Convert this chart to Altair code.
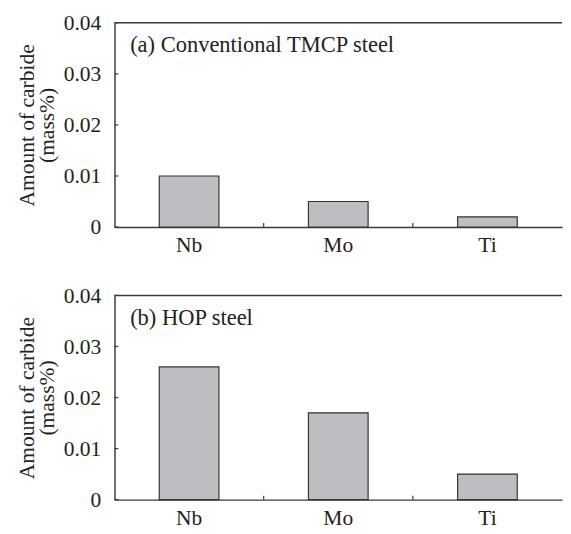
import altair as alt
import pandas as pd

categories = ["Nb", "Mo", "Ti"]
conventional = [0.010, 0.005, 0.002]
hop = [0.026, 0.017, 0.005]
panel_labels = ["(a) Conventional TMCP steel", "(b) HOP steel"]
y_ticks = [0, 0.01, 0.02, 0.03, 0.04]
y_title = ["Amount of carbide", "(mass%)"]

W = 458
H = 209
FONT = "Times New Roman, Liberation Serif, Times, serif"
AX = "#3a3a3a"


def panel(values, label):
    df = pd.DataFrame({"cat": categories, "value": values})
    xscale = alt.Scale(paddingInner=0.6, paddingOuter=0.3)
    yscale = alt.Scale(domain=[0, 0.04], nice=False, zero=True)
    xaxis = alt.Axis(title=None, labelAngle=0, ticks=False, labelPadding=8)
    yaxis = alt.Axis(values=y_ticks, ticks=False, title=y_title, labelPadding=14,
                     labelExpr="datum.value == 0 ? '0' : format(datum.value, '.2f')")
    bars = alt.Chart(df).mark_bar(fill="#bdbec2", stroke="#333333", strokeWidth=1.2).encode(
        x=alt.X("cat:N", sort=categories, scale=xscale, axis=xaxis),
        y=alt.Y("value:Q", scale=yscale, axis=yaxis),
    )
    yt = alt.Chart(pd.DataFrame({"v": y_ticks})).mark_rule(color=AX, strokeWidth=1.2).encode(
        y=alt.Y("v:Q", scale=yscale, axis=yaxis),
        x=alt.value(0), x2=alt.value(4),
    )
    xt = alt.Chart(pd.DataFrame({"cat": categories[:-1]})).mark_rule(
        color=AX, strokeWidth=1.2, xOffset=W * 0.1
    ).encode(
        x=alt.X("cat:N", sort=categories, scale=xscale, bandPosition=1, axis=xaxis),
        y=alt.value(H), y2=alt.value(H - 4),
    )
    ldf = pd.DataFrame({"label": [label]})
    top = alt.Chart(ldf).mark_rule(color=AX, strokeWidth=1.5).encode(
        x=alt.value(0), x2=alt.value(W), y=alt.value(0)
    )
    txt = alt.Chart(ldf).mark_text(align="left", baseline="alphabetic", font=FONT,
                                   fontSize=23, color="#222222").encode(
        text="label:N", x=alt.value(16), y=alt.value(30)
    )
    return alt.layer(bars, yt, xt, top, txt).properties(width=W, height=H)


chart = alt.vconcat(
    panel(conventional, panel_labels[0]),
    panel(hop, panel_labels[1]),
    spacing=30,
).properties(padding={"left": 8, "top": -2, "right": 0, "bottom": 0}).configure_view(
    stroke=None
).configure_axis(
    labelFont=FONT, labelFontSize=22, labelColor="#222222",
    titleFont=FONT, titleFontSize=22, titleFontWeight="normal", titleColor="#222222",
    titleLineHeight=20, titlePadding=5,
    domainColor=AX, domainWidth=1.5, grid=False,
)

chart.save("out.html", embed_options={"renderer": "svg", "actions": False})
